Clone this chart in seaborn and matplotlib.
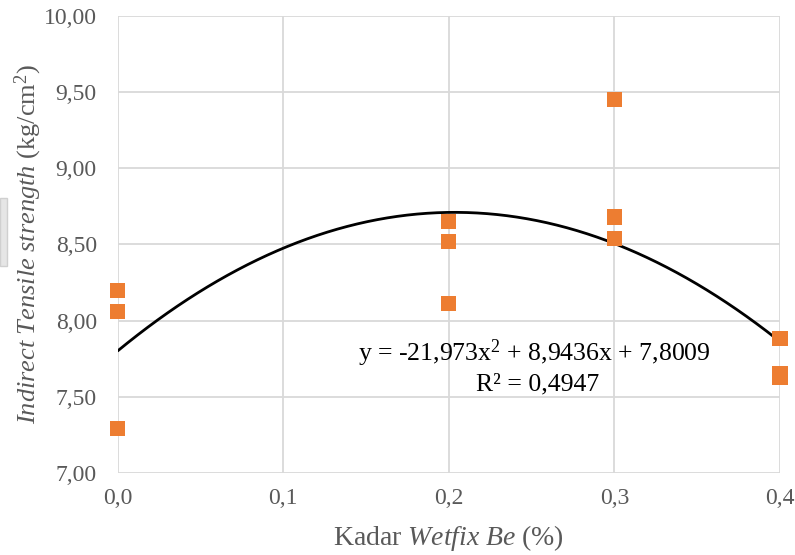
import numpy as np
import pandas as pd
import seaborn as sns
from matplotlib import pyplot as plt
from matplotlib.patches import Rectangle

# data
kadar = [0.0, 0.0, 0.0, 0.2, 0.2, 0.2, 0.3, 0.3, 0.3, 0.4, 0.4, 0.4]
its = [8.20, 8.06, 7.29, 8.65, 8.52, 8.11, 9.45, 8.68, 8.54, 7.88, 7.65, 7.63]
coef = [-21.973, 8.9436, 7.8009]
yticks = [7.0, 7.5, 8.0, 8.5, 9.0, 9.5, 10.0]
xticks = [0.0, 0.1, 0.2, 0.3, 0.4]

sns.set_style("white")
plt.rcParams['font.family'] = ['Liberation Serif', 'DejaVu Serif']
plt.rcParams['mathtext.fontset'] = 'custom'
plt.rcParams['mathtext.rm'] = 'Liberation Serif'
plt.rcParams['mathtext.it'] = 'Liberation Serif:italic'
grey = "#595959"
gridc = "#d9d9d9"

df = pd.DataFrame({"x": kadar, "y": its})
xf = np.linspace(0, 0.4, 200)
fit = pd.DataFrame({"x": xf, "y": np.polyval(coef, xf)})

fig = plt.figure(figsize=(7.95, 5.55), dpi=100)
ax = fig.add_axes([0.148, 0.148, 0.833, 0.823])

ax.grid(True, color=gridc, linewidth=1.3)
ax.set_axisbelow(True)
sns.lineplot(data=fit, x="x", y="y", color="black", linewidth=2, ax=ax, zorder=2)
sns.scatterplot(data=df, x="x", y="y", marker="s", s=120, color="#ED7D31",
                edgecolor="none", ax=ax, zorder=3, clip_on=False)

ax.set_xlim(0, 0.4)
ax.set_ylim(7, 10)
ax.set_xticks(xticks)
ax.set_yticks(yticks)
ax.set_xticklabels([f"{v:.1f}".replace(".", ",") for v in xticks], fontsize=17, color=grey)
ax.set_yticklabels([f"{v:.2f}".replace(".", ",") for v in yticks], fontsize=17, color=grey)
ax.tick_params(axis="x", length=6, width=1.3, color=gridc, pad=5, direction="out")
ax.tick_params(axis="y", length=6, width=1.3, color=gridc, pad=9, direction="out")
for s in ax.spines.values():
    s.set_visible(False)

ax.set_xlabel(r"Kadar $\it{Wetfix\ Be}$ (%)", fontsize=20, color=grey, labelpad=10)
ax.set_ylabel(r"$\it{Indirect\ Tensile\ strength}$ (kg/cm$^2$)", fontsize=19, color=grey, labelpad=0)

ax.text(0.2517, 7.783, "y = -21,973x$^2$ + 8,9436x + 7,8009", fontsize=18.5, color="black",
        ha="center", va="center")
ax.text(0.2535, 7.583, "R² = 0,4947", fontsize=18.5, color="black", ha="center", va="center")

fig.patches.append(Rectangle((0, 1 - 266 / 555), 7 / 795, 68 / 555, transform=fig.transFigure,
                             facecolor="#e6e6e6", edgecolor="#d0d0d0", linewidth=1))

fig.savefig("out.png", dpi=100)
